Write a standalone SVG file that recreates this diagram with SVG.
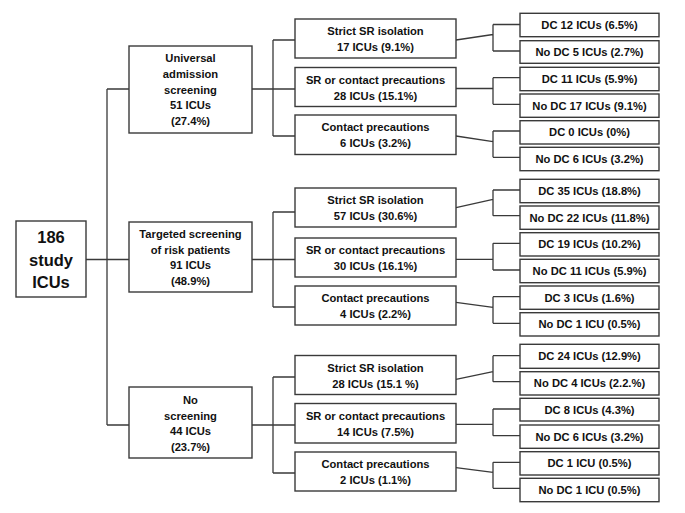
<svg xmlns="http://www.w3.org/2000/svg" width="685" height="513" viewBox="0 0 685 513">
<style>
.b{fill:#fff;stroke:#3a3a3a;stroke-width:1.4}
.c{fill:none;stroke:#3a3a3a;stroke-width:1.3}
text{font-family:"Liberation Sans",Arial,sans-serif;font-weight:bold;font-size:11.2px;fill:#111;text-anchor:middle}
.r{font-size:16.5px}
</style>
<rect width="685" height="513" fill="#fff"/>
<g id="connectors">
<path class="c" d="M86,259.5H129M107,89V425M107,89H129M107,425H129"/>
<path class="c" d="M252,89H295M273,40V136M273,40H295M273,136H295"/>
<path class="c" d="M252,259.5H295M273,212V307M273,212H295M273,307H295"/>
<path class="c" d="M252,425H295M273,377V473M273,377H295M273,473H295"/>
<path class="c" d="M456,40L493,34.5M493,24.5V51M493,24.5H520M493,51H520"/>
<path class="c" d="M456,88.5H493M493,77.7V104.3M493,77.7H520M493,104.3H520"/>
<path class="c" d="M456,136L493,141.7M493,131V157.3M493,131H520M493,157.3H520"/>
<path class="c" d="M456,207.7L493,199.3M493,190V215.7M493,190H520M493,215.7H520"/>
<path class="c" d="M456,259.3H493M493,243.3V270M493,243.3H520M493,270H520"/>
<path class="c" d="M456,302.3L493,307.3M493,296.7V323.3M493,296.7H520M493,323.3H520"/>
<path class="c" d="M456,379.3L493,371.7M493,355.7V381.7M493,355.7H520M493,381.7H520"/>
<path class="c" d="M456,424.3H493M493,409V435.7M493,409H520M493,435.7H520"/>
<path class="c" d="M456,467.7L493,472.3M493,462.3V488.3M493,462.3H520M493,488.3H520"/>
</g>
<g id="root"><rect class="b" x="16" y="221" width="70" height="76"/>
<text class="r" x="51" y="243">186</text><text class="r" x="51" y="265.5">study</text><text class="r" x="51" y="288">ICUs</text></g>

<g id="universal"><rect class="b" x="129" y="46" width="123" height="87"/>
<text x="190.5" y="62">Universal</text><text x="190.5" y="77.5">admission</text><text x="190.5" y="93.5">screening</text><text x="190.5" y="109">51 ICUs</text><text x="190.5" y="124.5">(27.4%)</text></g>
<g id="targeted"><rect class="b" x="129" y="222" width="123" height="70"/>
<text x="190.5" y="238">Targeted screening</text><text x="190.5" y="253.5">of risk patients</text><text x="190.5" y="269">91 ICUs</text><text x="190.5" y="284.5">(48.9%)</text></g>
<g id="noscreen"><rect class="b" x="129" y="387" width="123" height="71"/>
<text x="190.5" y="404">No</text><text x="190.5" y="419.5">screening</text><text x="190.5" y="435">44 ICUs</text><text x="190.5" y="451">(23.7%)</text></g>

<g id="u-strict"><rect class="b" x="295" y="19" width="161" height="39"/><text x="375.5" y="35">Strict SR isolation</text><text x="375.5" y="51">17 ICUs (9.1%)</text></g>
<g id="u-sr"><rect class="b" x="295" y="67.5" width="161" height="39"/><text x="375.5" y="83.5">SR or contact precautions</text><text x="375.5" y="99.5">28 ICUs (15.1%)</text></g>
<g id="u-contact"><rect class="b" x="295" y="115" width="161" height="39.5"/><text x="375.5" y="131.3">Contact precautions</text><text x="375.5" y="147.3">6 ICUs (3.2%)</text></g>
<g id="t-strict"><rect class="b" x="295" y="188" width="161" height="39"/><text x="375.5" y="204">Strict SR isolation</text><text x="375.5" y="220">57 ICUs (30.6%)</text></g>
<g id="t-sr"><rect class="b" x="295" y="238" width="161" height="39"/><text x="375.5" y="254">SR or contact precautions</text><text x="375.5" y="270">30 ICUs (16.1%)</text></g>
<g id="t-contact"><rect class="b" x="295" y="286" width="161" height="39"/><text x="375.5" y="302">Contact precautions</text><text x="375.5" y="318">4 ICUs (2.2%)</text></g>
<g id="n-strict"><rect class="b" x="295" y="355.5" width="161" height="39"/><text x="375.5" y="371.5">Strict SR isolation</text><text x="375.5" y="387.5">28 ICUs (15.1 %)</text></g>
<g id="n-sr"><rect class="b" x="295" y="403.5" width="161" height="39.5"/><text x="375.5" y="419.7">SR or contact precautions</text><text x="375.5" y="435.7">14 ICUs (7.5%)</text></g>
<g id="n-contact"><rect class="b" x="295" y="452" width="161" height="39"/><text x="375.5" y="468">Contact precautions</text><text x="375.5" y="484">2 ICUs (1.1%)</text></g>

<g id="l1"><rect class="b" x="520" y="13.3" width="139" height="23.4"/><text x="589.5" y="29">DC 12 ICUs (6.5%)</text></g>
<g id="l2"><rect class="b" x="520" y="40.7" width="139" height="22.6"/><text x="589.5" y="56">No DC 5 ICUs (2.7%)</text></g>
<g id="l3"><rect class="b" x="520" y="67.3" width="139" height="23.4"/><text x="589.5" y="83">DC 11 ICUs (5.9%)</text></g>
<g id="l4"><rect class="b" x="520" y="94" width="139" height="23.3"/><text x="589.5" y="109.7">No DC 17 ICUs (9.1%)</text></g>
<g id="l5"><rect class="b" x="520" y="120.7" width="139" height="23.3"/><text x="589.5" y="136.4">DC 0 ICUs (0%)</text></g>
<g id="l6"><rect class="b" x="520" y="147.3" width="139" height="23.4"/><text x="589.5" y="163">No DC 6 ICUs (3.2%)</text></g>
<g id="l7"><rect class="b" x="520" y="179.3" width="139" height="23.4"/><text x="589.5" y="195">DC 35 ICUs (18.8%)</text></g>
<g id="l8"><rect class="b" x="520" y="206" width="139" height="23.3"/><text x="589.5" y="221.7">No DC 22 ICUs (11.8%)</text></g>
<g id="l9"><rect class="b" x="520" y="232.7" width="139" height="23.3"/><text x="589.5" y="248.4">DC 19 ICUs (10.2%)</text></g>
<g id="l10"><rect class="b" x="520" y="259.3" width="139" height="23.4"/><text x="589.5" y="275">No DC 11 ICUs (5.9%)</text></g>
<g id="l11"><rect class="b" x="520" y="286" width="139" height="23.3"/><text x="589.5" y="301.7">DC 3 ICUs (1.6%)</text></g>
<g id="l12"><rect class="b" x="520" y="312.7" width="139" height="23.3"/><text x="589.5" y="328.4">No DC 1 ICU (0.5%)</text></g>
<g id="l13"><rect class="b" x="520" y="344.3" width="139" height="24"/><text x="589.5" y="360.3">DC 24 ICUs (12.9%)</text></g>
<g id="l14"><rect class="b" x="520" y="371.7" width="139" height="23.3"/><text x="589.5" y="387.4">No DC 4 ICUs (2.2.%)</text></g>
<g id="l15"><rect class="b" x="520" y="398.3" width="139" height="22.7"/><text x="589.5" y="413.7">DC 8 ICUs (4.3%)</text></g>
<g id="l16"><rect class="b" x="520" y="425" width="139" height="23.3"/><text x="589.5" y="440.7">No DC 6 ICUs (3.2%)</text></g>
<g id="l17"><rect class="b" x="520" y="451.7" width="139" height="23.3"/><text x="589.5" y="467.4">DC 1 ICU (0.5%)</text></g>
<g id="l18"><rect class="b" x="520" y="478.3" width="139" height="23.4"/><text x="589.5" y="494">No DC 1 ICU (0.5%)</text></g>
</svg>
